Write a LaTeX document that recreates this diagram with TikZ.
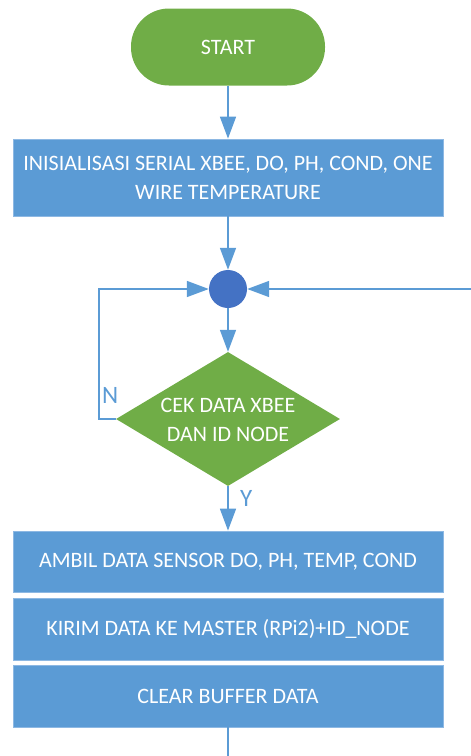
\documentclass[tikz,border=0pt]{standalone}
\usepackage{fontspec}
\setmainfont{Carlito}
\usetikzlibrary{shapes.geometric,arrows.meta}
\definecolor{boxblue}{HTML}{5B9BD5}
\definecolor{boxedge}{HTML}{8DB8E3}
\definecolor{flowgreen}{HTML}{70AD47}
\definecolor{dotblue}{HTML}{4472C4}
\definecolor{lineblue}{HTML}{5B9BD5}
\tikzset{
  x=1pt, y=-1pt,
  every node/.style={font=\fontsize{22}{29}\selectfont, text=white, inner sep=0pt, align=center},
  procbox/.style={rectangle, fill=boxblue, draw=boxedge, line width=0.8pt, minimum width=430pt},
  termbox/.style={rectangle, rounded corners=38pt, fill=flowgreen, minimum width=194pt, minimum height=77pt},
  decbox/.style={diamond, fill=flowgreen, minimum width=224pt, minimum height=134pt, aspect=1.67},
  joindot/.style={circle, fill=dotblue, minimum size=38pt},
  conn/.style={draw=lineblue, line width=1.6pt, -{Triangle[length=22pt,width=16pt]}},
  plainconn/.style={draw=lineblue, line width=1.6pt},
  lbl/.style={text=lineblue, font=\fontsize{25}{28}\selectfont}
}
\begin{document}
\begin{tikzpicture}
\useasboundingbox (0,0) rectangle (471,756);
\node[termbox] (start) at (228,47) {START};
\node[procbox, minimum height=77pt] (init) at (228,177.5) {INISIALISASI SERIAL XBEE, DO, PH, COND, ONE\\WIRE TEMPERATURE};
\node[joindot] (dot) at (228,289) {};
\node[decbox] (cek) at (228,419) {};
\node (cektext) at (228,420) {CEK DATA XBEE\\DAN ID NODE};
\node[procbox, minimum height=61pt] (ambil) at (228,561.5) {AMBIL DATA SENSOR DO, PH, TEMP, COND};
\node[procbox, minimum height=62pt] (kirim) at (228,629) {KIRIM DATA KE MASTER (RPi2)+ID\_NODE};
\node[procbox, minimum height=62pt] (clear) at (228,696) {CLEAR BUFFER DATA};
\coordinate (loopcorner1) at (99,419);
\coordinate (loopcorner2) at (99,289);
\coordinate (rightin) at (480,289);
\coordinate (bottomout) at (228,760);
\draw[conn] (start.south) -- (init.north);
\draw[conn] (init.south) -- (dot.north);
\draw[conn] (dot.south) -- (cek.north);
\draw[conn] (cek.west) -- (loopcorner1) -- (loopcorner2) -- (dot.west);
\draw[conn] (rightin) -- (dot.east);
\draw[conn] (cek.south) -- (ambil.north);
\draw[plainconn] (clear.south) -- (bottomout);
\node[lbl, anchor=south west] (nlabel) at (102,404) {N};
\node[lbl, anchor=north west] (ylabel) at (240,490) {Y};
\end{tikzpicture}
\end{document}
